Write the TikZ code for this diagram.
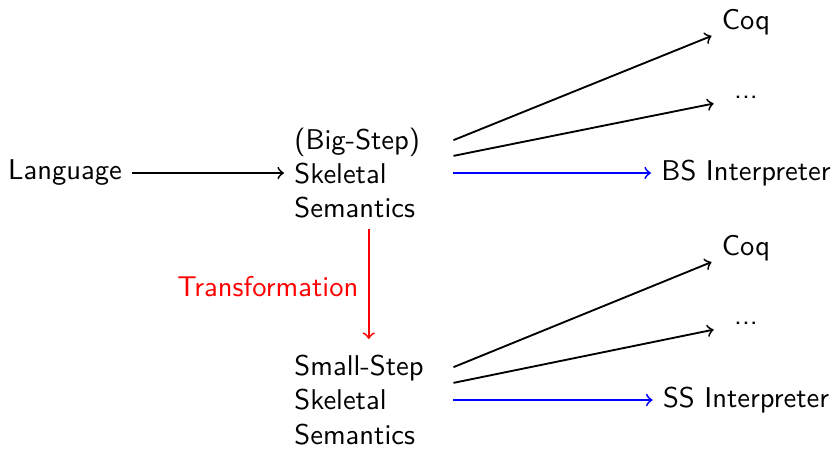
\documentclass[tikz,border=0pt]{standalone}

\begin{document}
\begin{tikzpicture}[x=0.35pt,y=-0.35pt,font=\sffamily,line width=0.65pt,
  sem/.style={anchor=west,text width=52pt,align=left},
  more/.style={minimum width=22pt},
  trans/.style={->,red,shorten >=2pt},
  interp/.style={->,blue}]
\useasboundingbox (0,0) rectangle (834,448);
\node (lang) at (65,173) {Language};
\node[sem] (bs) at (284,173) {(Big-Step)\\Skeletal\\Semantics};
\node[sem] (ss) at (284,400) {Small-Step\\Skeletal\\Semantics};
\node (coqbs) at (746,22) {Coq};
\node[more] (dotsbs) at (746,97) {...};
\node (bsi) at (746,173) {BS Interpreter};
\node (coqss) at (746,248) {Coq};
\node[more] (dotsss) at (746,323) {...};
\node (ssi) at (746,400) {SS Interpreter};
\draw[->] (lang) -- (bs);
\draw[->] ([yshift=11.5pt]bs.east) -- (coqbs);
\draw[->] ([yshift=6pt]bs.east) -- (dotsbs);
\draw[interp] (bs.east) -- (bsi);
\draw[trans] (bs.south) -- node[left] {Transformation} (ss.north);
\draw[->] ([yshift=11.5pt]ss.east) -- (coqss);
\draw[->] ([yshift=6pt]ss.east) -- (dotsss);
\draw[interp] (ss.east) -- (ssi);
\end{tikzpicture}
\end{document}
